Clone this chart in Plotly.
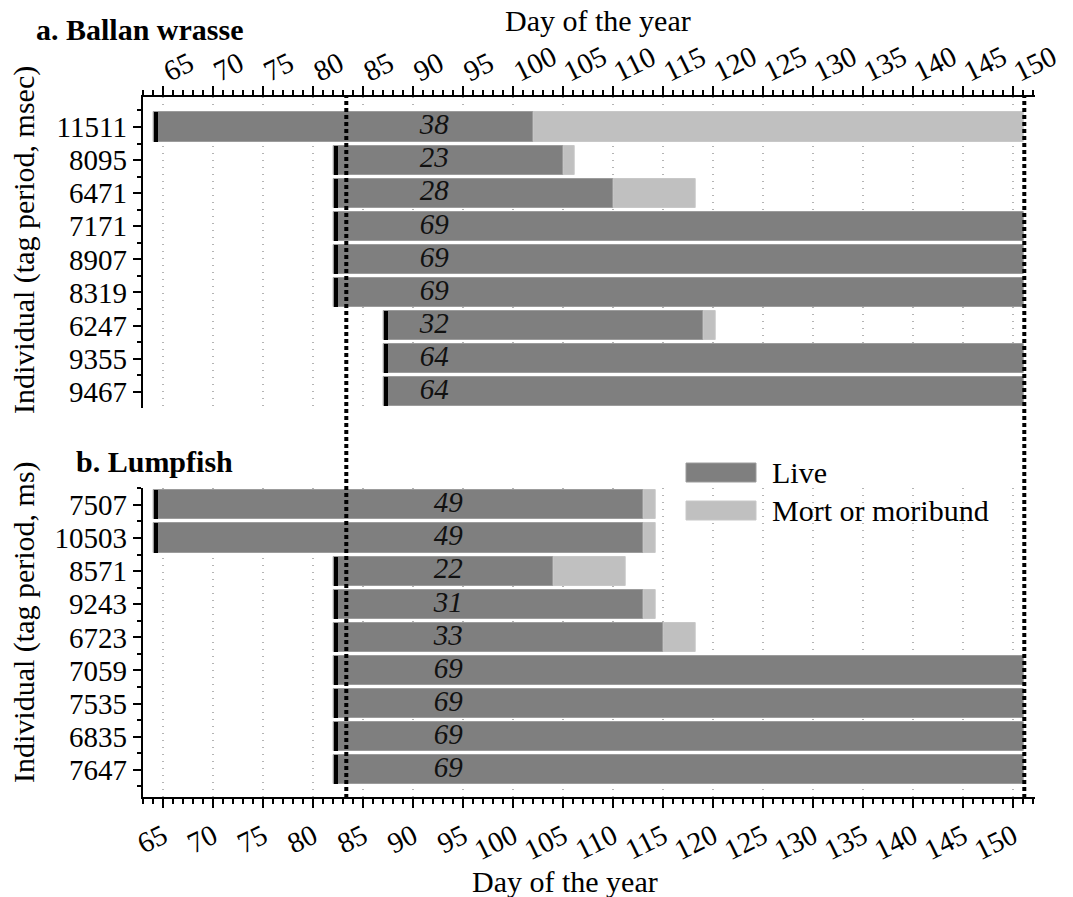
import plotly.graph_objects as go

# ---- panel a: Ballan wrasse ----
wrasse_ids = ["11511", "8095", "6471", "7171", "8907", "8319", "6247", "9355", "9467"]
wrasse_start = [64, 82, 82, 82, 82, 82, 87, 87, 87]          # day tagged
wrasse_live = [38, 23, 28, 69, 69, 69, 32, 64, 64]           # days alive
wrasse_mort = [49, 1.1, 8.2, 0, 0, 0, 1.2, 0, 0]             # days mort / moribund

# ---- panel b: Lumpfish ----
lump_ids = ["7507", "10503", "8571", "9243", "6723", "7059", "7535", "6835", "7647"]
lump_start = [64, 64, 82, 82, 82, 82, 82, 82, 82]
lump_live = [49, 49, 22, 31, 33, 69, 69, 69, 69]
lump_mort = [1.2, 1.2, 7.2, 1.2, 3.2, 0, 0, 0, 0]

# study period boundaries (dotted lines)
period_marks = [83.3, 151.1]

day_ticks = list(range(65, 151, 5))

W, H = 1073, 897
FONT = "Liberation Serif, Times New Roman, serif"
DARK = "#7f7f7f"
LIGHT = "#c0c0c0"
BAR_W = 0.88
TAG_W = 0.42  # width (days) of the black tagging marker


def fx(p):
    return p / W


def fy(p):
    return 1 - p / H


fig = go.Figure()


def add_panel(ids, start, live, mort, xa, ya, label_x):
    rows = list(range(len(ids)))
    live_end = [s + l for s, l in zip(start, live)]
    fig.add_trace(go.Bar(
        orientation="h", y=rows, x=live, base=start, width=BAR_W,
        marker=dict(color=DARK, line=dict(color="#9c9c9c", width=1)),
        xaxis=xa, yaxis=ya, showlegend=False, hoverinfo="skip"))
    m_rows = [r for r, m in zip(rows, mort) if m > 0]
    m_len = [m for m in mort if m > 0]
    m_base = [e for e, m in zip(live_end, mort) if m > 0]
    fig.add_trace(go.Bar(
        orientation="h", y=m_rows, x=m_len, base=m_base, width=BAR_W,
        marker=dict(color=LIGHT, line=dict(color="#c8c8c8", width=1)),
        xaxis=xa, yaxis=ya, showlegend=False, hoverinfo="skip"))
    fig.add_trace(go.Bar(
        orientation="h", y=rows, x=[TAG_W] * len(rows), base=start, width=BAR_W,
        marker=dict(color="black", line=dict(width=0)),
        xaxis=xa, yaxis=ya, showlegend=False, hoverinfo="skip"))
    fig.add_trace(go.Scatter(
        x=[label_x] * len(rows), y=rows, mode="text",
        text=[str(v) for v in live], textposition="middle center",
        textfont=dict(family=FONT, size=29, color="#111111", style="italic"),
        xaxis=xa, yaxis=ya, showlegend=False, hoverinfo="skip"))


add_panel(wrasse_ids, wrasse_start, wrasse_live, wrasse_mort, "x", "y", 92.1)
add_panel(lump_ids, lump_start, lump_live, lump_mort, "x2", "y2", 93.5)

x_dom = [fx(142.7), fx(1035)]
x_rng = [62.94, 152.17]

xcommon = dict(
    domain=x_dom, range=x_rng, tickmode="array", tickvals=day_ticks,
    ticks="outside", ticklen=9, tickwidth=2, tickcolor="black",
    minor=dict(tickmode="linear", tick0=0, dtick=1, ticks="outside",
               ticklen=5, tickwidth=1.5, tickcolor="black", showgrid=False),
    showline=True, linewidth=2, linecolor="black",
    showgrid=True, gridcolor="#b4b4b4", griddash="1px,6px", gridwidth=1.5,
    zeroline=False, tickangle=-26, automargin=False,
    tickfont=dict(family=FONT, size=29, color="black"),
)


def ycommon(ids, dom, rng):
    n = len(ids)
    return dict(
        domain=dom, range=rng, tickmode="array", tickvals=list(range(n)),
        ticktext=ids, ticks="outside", ticklen=8, tickwidth=2, tickcolor="black",
        minor=dict(tickmode="array", tickvals=[i + 0.5 for i in range(-1, n)],
                   ticks="outside", ticklen=4, tickwidth=1.5, tickcolor="black"),
        showline=True, linewidth=2, linecolor="black", showgrid=False,
        zeroline=False, automargin=False,
        tickfont=dict(family=FONT, size=29, color="black"),
    )


fig.update_layout(
    width=W, height=H,
    margin=dict(l=0, r=0, t=0, b=0, autoexpand=False),
    paper_bgcolor="white", plot_bgcolor="white",
    barmode="overlay", bargap=0,
    showlegend=False,
    xaxis=dict(xcommon, anchor="y", side="top", ticklabelstandoff=-9),
    xaxis2=dict(xcommon, anchor="y2", side="bottom"),
    yaxis=dict(ycommon(wrasse_ids, [fy(408), fy(97)], [8.49, -0.906]), anchor="x"),
    yaxis2=dict(ycommon(lump_ids, [fy(797), fy(488)], [8.82, -0.51]), anchor="x2"),
)

# dotted period lines crossing both panels
for d in period_marks:
    fig.add_shape(type="line", xref="x", yref="paper", x0=d, x1=d,
                  y0=fy(798), y1=fy(96),
                  line=dict(color="black", width=4, dash="4px,3px"), layer="above")

# legend drawn as swatches + labels
legend_items = [("Live", DARK, "#9c9c9c", 463, 482), ("Mort or moribund", LIGHT, "#c8c8c8", 501, 520)]
for name, fill, edge, top, bot in legend_items:
    fig.add_shape(type="rect", xref="paper", yref="paper",
                  x0=fx(686), x1=fx(756), y0=fy(bot), y1=fy(top),
                  fillcolor=fill, line=dict(color=edge, width=1))
    fig.add_annotation(x=fx(770), y=fy((top + bot) / 2), xref="paper", yref="paper",
                       text=name, showarrow=False, xanchor="left", yanchor="middle",
                       font=dict(family=FONT, size=30, color="black"))

texts = [
    ("Day of the year", 598, 21, "center", 0, 30, False),
    ("Day of the year", 565, 881, "center", 0, 30, False),
    ("a. Ballan wrasse", 34, 30, "left", 0, 30, True),
    ("b. Lumpfish", 74, 461, "left", 0, 30, True),
    ("Individual (tag period, msec)", 24, 240, "center", -90, 30, False),
    ("Individual (tag period, ms)", 24, 622, "center", -90, 30, False),
]
for t, x, y, anc, ang, size, bold in texts:
    fig.add_annotation(x=fx(x), y=fy(y), xref="paper", yref="paper",
                       text=f"<b>{t}</b>" if bold else t, showarrow=False,
                       xanchor=anc, yanchor="middle", textangle=ang,
                       font=dict(family=FONT, size=size, color="black"))

fig.write_html("out.html")
